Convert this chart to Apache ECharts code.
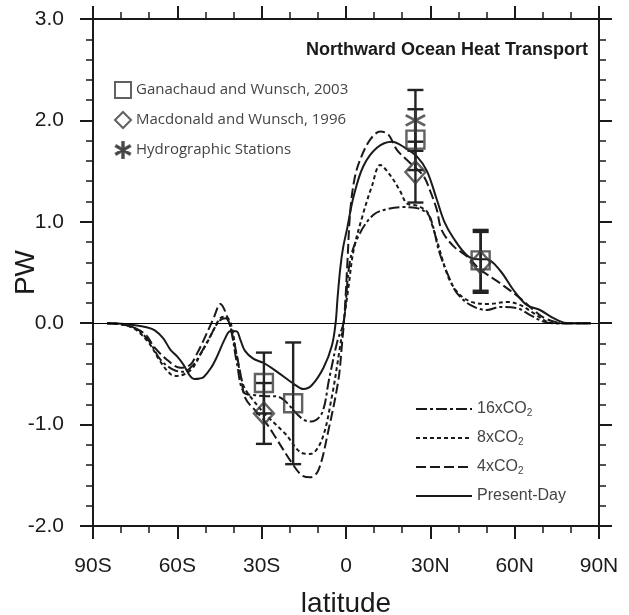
<!DOCTYPE html>
<html><head><meta charset="utf-8">
<script src="https://cdn.jsdelivr.net/npm/echarts@6/dist/echarts.min.js"></script>
<style>html,body{margin:0;padding:0;background:#fff}#c{width:629px;height:615px}</style>
</head><body><div id="c"></div>
<script>
// ---- data ----
const latPD = [-85,-80,-75,-71,-68,-65,-62.5,-60,-57.8,-55.5,-54,-52,-50.6,-48,-45.9,-43,-41.2,-39,-37.5,-36,-33,-29.5,-24.5,-18.5,-15.1,-12.1,-8,-5,-3.7,-3,-2,-1,0.3,2.7,6.2,11,16.3,21,25.2,28.8,32.3,35,38.2,43,47,50,54.8,59.5,64.3,69,73.8,77.5,80,87];
const valPD = [0,-0.005,-0.02,-0.04,-0.07,-0.15,-0.26,-0.33,-0.41,-0.52,-0.55,-0.545,-0.53,-0.44,-0.33,-0.15,-0.08,-0.08,-0.17,-0.27,-0.35,-0.39,-0.48,-0.6,-0.65,-0.61,-0.44,-0.22,0,0.25,0.55,0.75,0.92,1.25,1.55,1.73,1.79,1.73,1.645,1.5,1.22,1.0,0.84,0.67,0.63,0.63,0.52,0.33,0.18,0.13,0.05,0.005,0,0];

const lat4x = [-85,-80,-75,-71,-68.4,-63.7,-58.9,-55.4,-53,-50.6,-47.1,-44.7,-42.3,-40,-37.6,-35.8,-32.3,-28.5,-25.2,-19.2,-15.7,-12.7,-9.8,-6.2,-2.7,-1.5,-0.5,0.5,1.5,3,5,8.6,12.2,15.1,18.1,22.8,27.6,30,32.3,34,38.2,43,47.7,54.8,61.9,66.7,70,73.8,77,87];
const val4x = [0,-0.01,-0.05,-0.12,-0.23,-0.36,-0.44,-0.41,-0.3,-0.165,0.05,0.19,0.065,-0.165,-0.49,-0.74,-0.86,-0.98,-1.12,-1.38,-1.5,-1.52,-1.45,-1.05,-0.56,-0.23,0.1,0.6,1.1,1.42,1.61,1.81,1.89,1.86,1.71,1.58,1.45,1.3,1.12,0.92,0.76,0.66,0.53,0.395,0.247,0.13,0.06,0.016,0,0];

const lat8x = [-85,-80,-75,-70,-66,-62.5,-60.1,-56.6,-54,-51.8,-49,-47.1,-44.7,-42.9,-41,-38.8,-36.4,-33,-28.7,-21.6,-15.7,-12.7,-8.6,-5,-2.5,-0.9,0.9,2.7,6.2,9.2,12.2,15.7,19.3,21.7,25.2,28.8,30.5,32.3,35.9,38.2,41.8,46.5,51.3,57.2,61.9,66.7,71.4,75,87];
const val8x = [0,-0.01,-0.06,-0.2,-0.38,-0.5,-0.52,-0.49,-0.42,-0.31,-0.17,-0.066,0.05,0.065,0,-0.33,-0.62,-0.76,-0.9,-1.09,-1.28,-1.29,-1.15,-0.72,-0.3,0,0.36,0.72,1.09,1.35,1.56,1.46,1.3,1.18,1.16,1.1,0.98,0.82,0.49,0.36,0.25,0.197,0.19,0.21,0.18,0.1,0.016,0,0];

const lat16x = [-85,-80,-75,-70,-66,-61.3,-57.8,-55,-53,-48.3,-45.3,-42.9,-41.2,-38.8,-36.4,-32.3,-28.1,-25.2,-22.2,-15.7,-12.4,-8.6,-6,-3,-0.9,1.5,5,9.8,14.5,19.9,25.2,29.3,31,33.2,37,39.4,44.2,50.1,54.8,60.7,65.5,70.2,74,87];
const val16x = [0,-0.01,-0.05,-0.18,-0.36,-0.46,-0.48,-0.43,-0.36,-0.13,0.016,0.05,-0.03,-0.395,-0.68,-0.71,-0.72,-0.72,-0.755,-0.94,-0.97,-0.89,-0.55,-0.17,0,0.625,0.89,1.07,1.125,1.145,1.135,1.07,0.95,0.7,0.43,0.3,0.18,0.13,0.16,0.15,0.08,0.016,0,0];

// observations: [latitude, value], with error half-widths
const gwLat = [-29.2,-18.8,24.7,47.9];
const gwVal = [-0.59,-0.79,1.81,0.62];
const gwErr = [0.3,0.6,0.3,0.3];
const mwLat = [-29.2,24.7,47.9];
const mwVal = [-0.89,1.49,0.60];
const mwErr = [0.3,0.3,0.3];
const hyLat = [24.7];
const hyVal = [2.0];
const hyErr = [0.3];

const xTickValues = [-90,-60,-30,0,30,60,90];
const xTickLabels = ['90S','60S','30S','0','30N','60N','90N'];
const seriesNames = ['16xCO2','8xCO2','4xCO2','Present-Day'];
const obsNames = ['Ganachaud and Wunsch, 2003','Macdonald and Wunsch, 1996','Hydrographic Stations'];

// ---- build ----
const zip = (a,b) => a.map((x,i)=>[x,b[i]]);
const errRows = [];
gwLat.forEach((x,i)=>errRows.push([x,gwVal[i]-gwErr[i],gwVal[i]+gwErr[i]]));
mwLat.forEach((x,i)=>errRows.push([x,mwVal[i]-mwErr[i],mwVal[i]+mwErr[i]]));
hyLat.forEach((x,i)=>errRows.push([x,hyVal[i]-hyErr[i],hyVal[i]+hyErr[i]]));

const INK = '#1a1a1a';
const FONT = '"Liberation Sans", Arial, Helvetica, sans-serif';
const ASTER = 'path://M-1,-10L1,-10L1,10L-1,10Z' +
  'M-8.16,5.87L-9.16,4.13L8.16,-5.87L9.16,-4.13Z' +
  'M9.16,4.13L8.16,5.87L-9.16,-4.13L-8.16,-5.87Z';

const axisCommon = {
  axisLine:{onZero:false, lineStyle:{color:INK, width:2}},
  axisTick:{show:true, inside:false, length:13, lineStyle:{color:INK, width:2}},
  splitLine:{show:false}
};
function xAx(pos, labels){
  return Object.assign({}, axisCommon, {
    type:'value', position:pos, min:-90, max:90, interval:30,
    minorTick:{show:true, splitNumber:3, length:7, lineStyle:{color:INK, width:1.5}},
    axisLabel:{show:labels, margin:30, fontSize:21, color:INK, fontFamily:FONT,
      formatter:v=>{const i=xTickValues.indexOf(v); return i>=0?xTickLabels[i]:'';}},
    name: labels?'latitude':'', nameLocation:'middle', nameGap:64,
    nameTextStyle:{fontSize:28, color:INK, fontFamily:FONT}
  });
}
function yAx(pos, labels){
  return Object.assign({}, axisCommon, {
    type:'value', position:pos, min:-2, max:3, interval:1,
    minorTick:{show:true, splitNumber:5, length:7, lineStyle:{color:INK, width:1.5}},
    axisLabel:{show:labels, margin:29, fontSize:21, color:INK, fontFamily:FONT,
      formatter:v=>v.toFixed(1)},
    name: labels?'PW':'', nameLocation:'middle', nameGap:53, nameMoveOverlap:false,
    nameTextStyle:{fontSize:28, color:INK, fontFamily:FONT}
  });
}
const dashes = {'16xCO2':[11,3,3,3], '8xCO2':[4,3], '4xCO2':[10,4], 'Present-Day':'solid'};
const curves = {'16xCO2':zip(lat16x,val16x), '8xCO2':zip(lat8x,val8x), '4xCO2':zip(lat4x,val4x), 'Present-Day':zip(latPD,valPD)};

const series = seriesNames.map(n=>({
  name:n, type:'line', data:curves[n], smooth:0.35, symbol:'none', xAxisIndex:0, yAxisIndex:0,
  lineStyle:{color:INK, width:2, type:dashes[n]}, itemStyle:{color:INK}, z:3,
  markLine: n==='Present-Day' ? {silent:true, symbol:'none', label:{show:false},
    lineStyle:{color:'#000', width:1, type:'solid'}, data:[{yAxis:0}]} : undefined
}));
series.push({
  type:'custom', name:'errorbars', data:errRows, z:4, silent:true,
  renderItem:(params, api)=>{
    const x=api.value(0), lo=api.value(1), hi=api.value(2);
    const a=api.coord([x,lo]), b=api.coord([x,hi]); const w=8;
    const st={stroke:'#222', lineWidth:2.4};
    return {type:'group', children:[
      {type:'line', shape:{x1:a[0],y1:a[1],x2:b[0],y2:b[1]}, style:st},
      {type:'line', shape:{x1:a[0]-w,y1:a[1],x2:a[0]+w,y2:a[1]}, style:st},
      {type:'line', shape:{x1:b[0]-w,y1:b[1],x2:b[0]+w,y2:b[1]}, style:st}
    ]};
  }
});
series.push({name:obsNames[0], type:'scatter', data:zip(gwLat,gwVal), symbol:'rect', symbolSize:18, z:5,
  itemStyle:{color:'rgba(0,0,0,0)', borderColor:'#3a3a3a', borderWidth:2.4}});
series.push({name:obsNames[1], type:'scatter', data:zip(mwLat,mwVal), symbol:'diamond', symbolSize:[20,22], z:5,
  itemStyle:{color:'rgba(0,0,0,0)', borderColor:'#3a3a3a', borderWidth:2.4}});
series.push({name:obsNames[2], type:'scatter', data:zip(hyLat,hyVal), symbol:ASTER, symbolSize:20, z:5,
  itemStyle:{color:'#3a3a3a', borderColor:'#3a3a3a', borderWidth:0.6}});

const chart = echarts.init(document.getElementById('c'), null, {renderer:'canvas'});
chart.setOption({
  animation:false,
  backgroundColor:'#fff',
  textStyle:{fontFamily:FONT},
  title:{text:'Northward Ocean Heat Transport', right:36, top:36,
    textStyle:{fontSize:18, fontWeight:'bold', color:INK, fontFamily:FONT}},
  grid:{left:93, right:30, top:19, bottom:89, containLabel:false, outerBoundsMode:'none'},
  xAxis:[xAx('bottom',true), xAx('top',false)],
  yAxis:[yAx('left',true), yAx('right',false)],
  legend:[
    {data:obsNames, orient:'vertical', left:109, top:76, itemWidth:16, itemHeight:16, itemGap:12,
      itemTextGap:13, selectedMode:false,
      textStyle:{fontFamily:'"Open Sans", "Noto Sans", sans-serif', fontSize:15, color:'#444'}},
    {data:seriesNames, orient:'vertical', left:410, top:396, itemWidth:56, itemHeight:14, itemGap:12,
      itemTextGap:5, selectedMode:false, itemStyle:{opacity:0},
      formatter:n=>n.replace('CO2','CO{s|2}'),
      textStyle:{fontFamily:FONT, fontSize:16, color:'#444',
        rich:{s:{fontSize:10, color:'#444', verticalAlign:'bottom', padding:[8,0,0,0], fontFamily:FONT}}}}
  ],
  series:series
});
</script></body></html>
